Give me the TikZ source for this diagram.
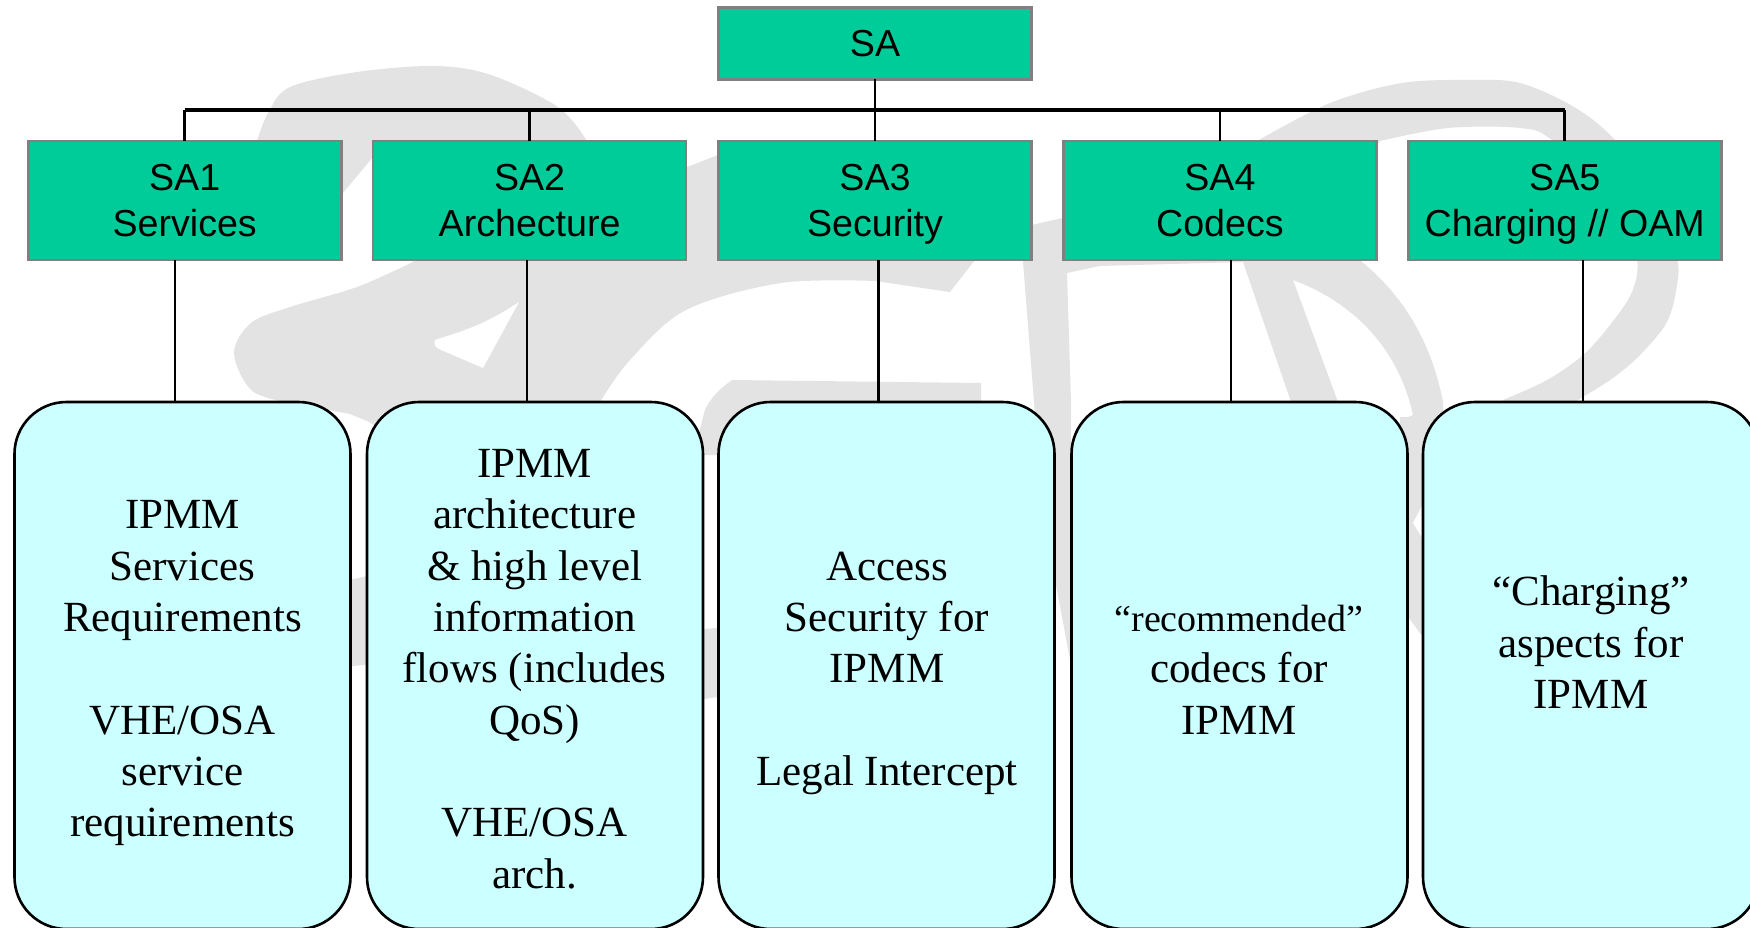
\documentclass[tikz,border=0pt]{standalone}
\usepackage{fontspec}
\setmainfont{Liberation Serif}
\newfontfamily\arialfont{Liberation Sans}
\definecolor{wmgray}{HTML}{E3E3E3}
\definecolor{boxgreen}{HTML}{00CC99}
\definecolor{boxedge}{HTML}{808080}
\definecolor{cyanfill}{HTML}{CCFFFF}
\newcommand{\nodepth}[1]{\raisebox{0pt}[\height][0pt]{#1}}
\tikzset{
  wm/.style={fill=wmgray,draw=none},
  headbox/.style={draw=boxedge,line width=2.6pt,fill=boxgreen,inner sep=0pt,outer sep=0pt,
    minimum width=313pt,align=center,font=\arialfont\fontsize{37.6}{46}\selectfont},
  roundbox/.style={draw=black,line width=2.6pt,fill=cyanfill,inner sep=0pt,outer sep=0pt,
    minimum width=336pt,minimum height=527pt,rounded corners=52pt},
  bodytext/.style={anchor=base,inner sep=0pt,align=center,font=\fontsize{43}{51.3}\selectfont},
  busline/.style={draw=black,line width=3.2pt},
  link/.style={draw=black,line width=2.6pt},
  lowlink/.style={draw=black,line width=2.4pt},
}
\begin{document}
\begin{tikzpicture}[x=1pt,y=-1pt]
\clip (0,0) rectangle (1750,928);
% watermark
\fill[wm] (413,262) -- (420,200) -- (373,157) -- (343,193) -- (300,250) -- (257,141)
  -- plot[smooth,tension=.55] coordinates {(257,141) (268,113) (290,87) (357,72) (435,66) (491,75) (558,107) (587,141)}
  -- (640,200) -- (687,167) -- (718,155) -- (1000,170) -- (975,260) -- (950,292)
  -- plot[smooth,tension=.55] coordinates {(875,281) (781,283) (686,310) (630,360) (600,402)}
  -- (600,480) -- (400,440) -- (367,421) -- (350,414)
  -- plot[smooth,tension=.55] coordinates {(285,402) (251,390) (234,353) (251,323) (290,307) (357,287) (413,262)} -- cycle;
\fill[white] (519,302) .. controls (480,328) and (455,333) .. (435,340) .. controls (433,345) and (436,348) .. (441,350) -- (483,368) -- cycle;
% T block and gap pieces
\fill[wm] (690,470) -- (703,455) -- (718,455) -- (718,470) -- (981,470) -- (981,383) -- (732,380)
  .. controls (715,392) and (705,405) .. (703,417) -- cycle;
\fill[wm] (345,581) -- (372,575) -- (372,664) -- (345,667) -- cycle;
\fill[wm] (698,630) -- (723,627) -- (723,696) -- (698,700) -- cycle;
% R
\fill[wm] (1034,402) -- (1023,262) -- (1032,225) -- (1040,223) -- (1063,218) -- (1200,215)
  -- (1300,225) .. controls (1370,255) and (1425,310) .. (1443,402)
  -- (1445,450) -- (1408,417) -- (1413,415)
  .. controls (1400,355) and (1360,305) .. (1293,280)
  -- (1338,402) -- (1291,402) -- (1243,262) -- (1100,266) -- (1067,273) -- (1071,402)
  -- (1071,665) -- (1056,585) -- (1045,560) -- cycle;
\fill[wm] (1400,417) -- (1430,417) -- (1430,642) -- (1423,637) -- (1408,617) -- (1400,610) -- cycle;
\fill[white] (1424,502) -- (1413,523) -- (1424,541) -- cycle;
% ring
\fill[wm] plot[smooth,tension=.55] coordinates {(1257,141) (1330,103) (1402,83) (1470,80) (1520,83) (1574,107) (1615,140) (1660,200) (1677,258) (1677,285) (1667,322) (1640,355) (1613,378) (1583,397) (1565,408)}
  -- (1495,408)
  -- plot[smooth,tension=.55] coordinates {(1503,400) (1547,380) (1583,355) (1610,325) (1632,292) (1637,258) (1620,200) (1552,140) (1520,128) (1448,128) (1380,141)}
  -- (1365,160) -- (1265,180) -- cycle;
% boxes
\node[headbox,minimum height=72pt] (sa) at (875,43.3) {SA};
\node[headbox,minimum height=119pt] (s1) at (184.7,200.5) {SA1\\Services};
\node[headbox,minimum height=119pt] (s2) at (529.6,200.5) {SA2\\Archecture};
\node[headbox,minimum height=119pt] (s3) at (875,200.5) {SA3\\\nodepth{Security}};
\node[headbox,minimum height=119pt] (s4) at (1219.9,200.5) {SA4\\Codecs};
\node[headbox,minimum height=119pt] (s5) at (1564.7,200.5) {SA5\\\nodepth{Charging // OAM}};
\node[roundbox] (r1) at (182.5,665.5) {};
\node[roundbox] (r2) at (535,665.5) {};
\node[roundbox] (r3) at (886.5,665.5) {};
\node[roundbox] (r4) at (1239.5,665.5) {};
\node[roundbox] (r5) at (1591,665.5) {};
% connectors
\coordinate (bus) at (875,110);
\coordinate (c1) at (174.7,330);
\coordinate (c2) at (526.8,330);
\coordinate (c3) at (878.3,330);
\coordinate (c4) at (1231,330);
\coordinate (c5) at (1583,330);
\draw[link] (sa.south) -- (s3.north);
\draw[busline] (s1.north |- bus) -- (s5.north |- bus);
\foreach \n in {s1,s2,s4,s5} \draw[link] (\n.north) -- (\n.north |- bus);
\draw[lowlink] (s1.south -| c1) -- (r1.north -| c1);
\draw[lowlink] (s2.south -| c2) -- (r2.north -| c2);
\draw[lowlink] (s3.south -| c3) -- (r3.north -| c3);
\draw[lowlink] (s4.south -| c4) -- (r4.north -| c4);
\draw[lowlink] (s5.south -| c5) -- (r5.north -| c5);
% texts
\node[bodytext] (t1) at (182.5,836.7) {IPMM\\Services\\Requirements\\\mbox{}\\VHE/OSA\\service\\requirements};
\node[bodytext] (t2) at (534.6,888) {IPMM\\architecture\\\&\ high level\\information\\flows (includes\\QoS)\\\mbox{}\\VHE/OSA\\arch.};
\node[bodytext] (t3) at (887,785.5) {Access\\Security for\\IPMM\\\mbox{}\\Legal Intercept};
\node[bodytext] (t4) at (1239,734) {{\fontsize{38}{51.3}\selectfont “recommended”}\\codecs for\\IPMM};
\node[bodytext] (t5) at (1591,708.5) {“Charging”\\aspects for\\IPMM};
\end{tikzpicture}
\end{document}
